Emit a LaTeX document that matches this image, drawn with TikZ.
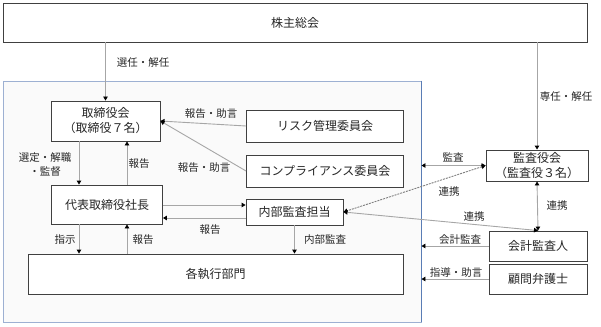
\documentclass[tikz,border=0pt]{standalone}
\usepackage{fontspec}
\setmainfont{Noto Sans CJK JP}
\usepackage{xcolor}
\usepackage{tikz}
\usetikzlibrary{arrows.meta,positioning}
\definecolor{boxline}{HTML}{404040}
\definecolor{linkgray}{HTML}{A6A6A6}
\definecolor{dashgray}{HTML}{7F7F7F}
\definecolor{framefill}{HTML}{FAFAFA}
\definecolor{frameline}{HTML}{9DB0D2}
\definecolor{frameblue}{HTML}{5A7DB5}
\definecolor{txt}{HTML}{262626}

\tikzset{
  orgbox/.style={draw=boxline, fill=white, line width=0.9pt, text=txt,
                 font=\fontsize{12}{15}\selectfont, align=center, inner sep=0pt},
  link/.style={draw=linkgray, line width=0.9pt,
               -{Triangle[color=black,length=4pt,width=4.5pt]}},
  twolink/.style={draw=linkgray, line width=0.9pt,
                  {Triangle[color=black,length=4pt,width=4.5pt]}-{Triangle[color=black,length=4pt,width=4.5pt]}},
  lbl/.style={text=txt, font=\fontsize{10.5}{14}\selectfont, inner sep=1pt, align=center}
}

\begin{document}
\begin{tikzpicture}[x=1pt, y=-1pt]
    \useasboundingbox (0,0) rectangle (601,326);

    \node[draw=frameline, fill=framefill, line width=0.9pt,
          minimum width=418pt, minimum height=241pt] (group) at (212,201.5) {};
    \draw[frameblue, line width=1pt] (group.north east) -- (group.south east);

    \node[orgbox, minimum width=584pt, minimum height=39pt] (meeting) at (295,22.5) {株主総会};
    \node[orgbox, minimum width=109pt, minimum height=40pt] (board) at (105.5,121) {取締役会\\（取締役７名）};
    \node[orgbox, minimum width=157pt, minimum height=32pt] (risk) at (325,126) {リスク管理委員会};
    \node[orgbox, minimum width=157pt, minimum height=32pt] (comply) at (325,171) {コンプライアンス委員会};
    \node[orgbox, minimum width=111pt, minimum height=39pt] (ceo) at (107,204.5) {代表取締役社長};
    \node[orgbox, minimum width=97pt, minimum height=26pt] (internal) at (294.5,212) {内部監査担当};
    \node[orgbox, minimum width=375pt, minimum height=40pt] (depts) at (215.5,274) {各執行部門};
    \node[orgbox, minimum width=102pt, minimum height=31pt] (auditboard) at (537,165.5) {監査役会\\（監査役３名）};
    \node[orgbox, minimum width=98pt, minimum height=30pt] (accountant) at (538,246) {会計監査人};
    \node[orgbox, minimum width=98pt, minimum height=30pt] (lawyer) at (538,279) {顧問弁護士};

    \coordinate (boardL) at ([xshift=-26.5pt]board.south);
    \coordinate (boardR) at ([xshift=21.5pt]board.south);
    \coordinate (iaUp) at ([yshift=7pt]internal.west);
    \coordinate (iaDown) at ([yshift=-6pt]internal.west);

    \draw[link] (meeting.south -| board.north) -- (board.north);
    \draw[link] (meeting.south -| auditboard.north) -- (auditboard.north);
    \draw[link] (risk.west) -- (board.east);
    \draw[link] (comply.west) -- (board.east);
    \draw[link] (boardL) -- (boardL |- ceo.north);
    \draw[link] (boardR |- ceo.north) -- (boardR);
    \draw[link] (ceo.east |- iaUp) -- (iaUp);
    \draw[link] (iaDown) -- (ceo.east |- iaDown);
    \draw[link] (boardL |- ceo.south) -- (boardL |- depts.north);
    \draw[link] (boardR |- depts.north) -- (boardR |- ceo.south);
    \draw[link] (internal.south) -- (internal.south |- depts.north);
    \draw[twolink] (group.east |- auditboard.west) -- (auditboard.west);
    \draw[twolink, draw=dashgray, dash pattern=on 2pt off 1pt] (auditboard.west) -- (internal.east);
    \draw[twolink] (internal.east) -- (accountant.north);
    \draw[twolink] (auditboard.south) -- (accountant.north);
    \draw[link] (accountant.west) -- (group.east |- accountant.west);
    \draw[link] (lawyer.west) -- (group.east |- lawyer.west);

    \node[lbl] (l1) at (143,63) {選任・解任};
    \node[lbl] (l2) at (566,97) {専任・解任};
    \node[lbl] (l3) at (211,114) {報告・助言};
    \node[lbl] (l4) at (204,168) {報告・助言};
    \node[lbl] (l5) at (45,165) {選定・解職\\・監督};
    \node[lbl] (l6) at (139,164) {報告};
    \node[lbl] (l7) at (65,240) {指示};
    \node[lbl] (l8) at (143,240) {報告};
    \node[lbl] (l9) at (210,230) {報告};
    \node[lbl] (l10) at (325,240) {内部監査};
    \node[lbl] (l11) at (453,157) {監査};
    \node[lbl] (l12) at (449,192) {連携};
    \node[lbl] (l13) at (474,217) {連携};
    \node[lbl] (l14) at (557,206) {連携};
    \node[lbl] (l15) at (460,240) {会計監査};
    \node[lbl] (l16) at (456,273) {指導・助言};
\end{tikzpicture}
\end{document}
